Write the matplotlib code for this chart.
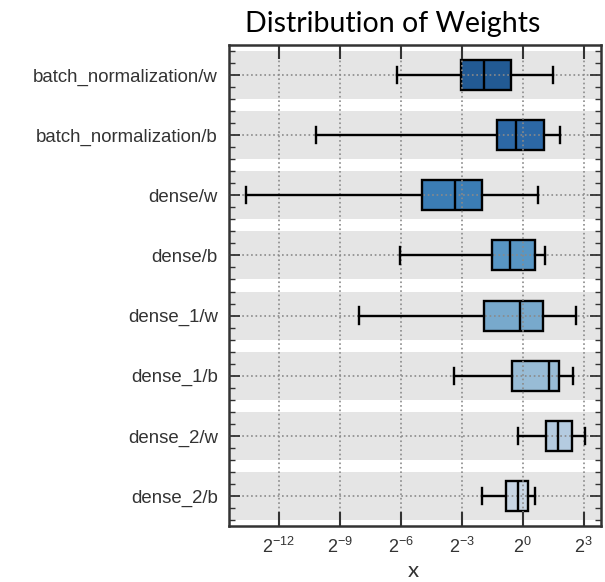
import matplotlib
matplotlib.use("Agg")
import matplotlib.pyplot as plt
from matplotlib.ticker import FixedLocator, MultipleLocator, NullLocator

# values, as log2 exponents
names = [
    "batch_normalization/w",
    "batch_normalization/b",
    "dense/w",
    "dense/b",
    "dense_1/w",
    "dense_1/b",
    "dense_2/w",
    "dense_2/b",
]
whislo = [-6.2, -10.15, -13.6, -6.04, -8.04, -3.37, -0.21, -2.02]
q1 = [-3.04, -1.25, -4.98, -1.53, -1.9, -0.53, 1.15, -0.82]
med = [-1.89, -0.34, -3.33, -0.63, -0.13, 1.31, 1.72, -0.21]
q3 = [-0.58, 1.05, -2.0, 0.61, 0.99, 1.76, 2.43, 0.25]
whishi = [1.51, 1.84, 0.77, 1.08, 2.63, 2.45, 3.04, 0.58]
tick_exp = [-12, -9, -6, -3, 0, 3]

box_colors = ["#225a94", "#2c68a6", "#3b7db5", "#5896c4",
              "#78a9cc", "#98bcd6", "#b4cbe0", "#c8d6e5"]

plt.rcParams["font.family"] = ["Liberation Sans", "DejaVu Sans"]
plt.rcParams["mathtext.fontset"] = "custom"
plt.rcParams["mathtext.rm"] = "Liberation Sans"
plt.rcParams["mathtext.default"] = "regular"

stats = [
    dict(label=n, whislo=2.0 ** a, q1=2.0 ** b, med=2.0 ** c, q3=2.0 ** d,
         whishi=2.0 ** e, fliers=[])
    for n, a, b, c, d, e in zip(names, whislo, q1, med, q3, whishi)
]
pos = list(range(len(names)))

fig = plt.figure(figsize=(6.05, 5.82), dpi=100)
ax = fig.add_axes([0.3785, 0.0962, 0.9934 - 0.3785, 0.9227 - 0.0962])

for p in pos:
    ax.axhspan(p - 0.4, p + 0.4, color="#e5e5e5", zorder=0, lw=0)

line_kw = dict(linewidth=1.7, color="black", zorder=3)
bp = ax.bxp(stats, positions=pos, widths=0.5, capwidths=0.27,
            patch_artist=True, orientation="horizontal",
            boxprops=dict(linewidth=1.7, edgecolor="black"),
            whiskerprops=line_kw, capprops=line_kw, medianprops=line_kw)
for box, c in zip(bp["boxes"], box_colors):
    box.set_facecolor(c)

ax.set_xscale("log", base=2)
ax.set_xlim(2.0 ** -14.45, 2.0 ** 3.85)
ax.set_ylim(7.5, -0.5)
ax.xaxis.set_major_locator(FixedLocator([2.0 ** e for e in tick_exp]))
ax.set_xticklabels([f"$2^{{{e}}}$" for e in tick_exp])
ax.xaxis.set_minor_locator(NullLocator())
ax.set_yticks(pos)
ax.set_yticklabels(names)
ax.yaxis.set_minor_locator(MultipleLocator(0.2))

ax.set_axisbelow(False)
ax.grid(True, which="major", linestyle=":", color="#8a8a8a", linewidth=1.2)

ax.tick_params(which="both", direction="in", top=True, right=True,
               color="#333333", labelcolor="#333333", pad=8)
ax.tick_params(axis="x", which="major", length=10, width=1.5, labelsize=13)
ax.tick_params(axis="y", which="major", length=8, width=1.3, labelsize=13.4)
ax.tick_params(axis="y", which="minor", length=4, width=1.0)
for s in ax.spines.values():
    s.set_color("#333333")
    s.set_linewidth(1.8)

fig.text(393 / 605, 1 - 32 / 582, "Distribution of Weights", ha="center",
         va="baseline", fontsize=20.5, family="Lato")
fig.text(413 / 605, 1 - 571 / 582, "x", ha="center", va="center",
         fontsize=16, family="Lato", color="#333333")

fig.savefig("out.png", dpi=100)
plt.close(fig)
